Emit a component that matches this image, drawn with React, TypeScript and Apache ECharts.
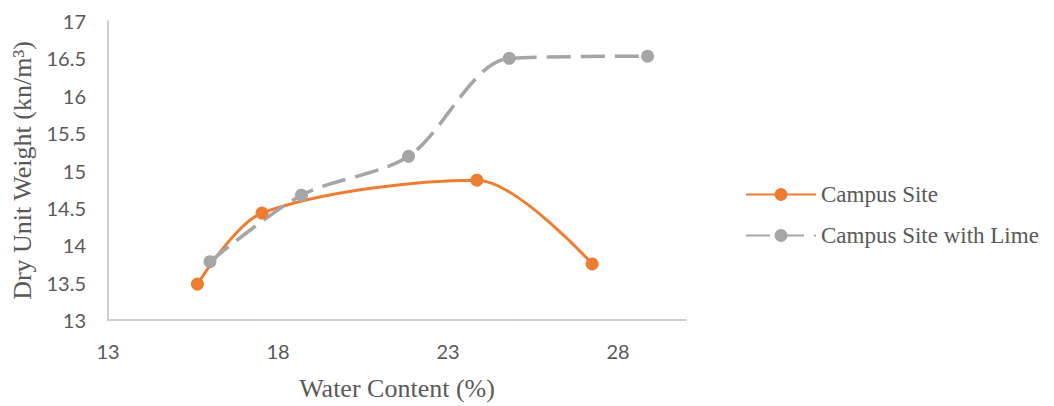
import React, { useEffect, useRef } from "react";
import * as echarts from "echarts";

const seriesNames = ["Campus Site", "Campus Site with Lime"];
const campusX = [15.63, 17.53, 23.85, 27.24];
const campusY = [13.48, 14.43, 14.87, 13.75];
const limeX = [16.0, 18.69, 21.84, 24.8, 28.87];
const limeY = [13.78, 14.67, 15.19, 16.5, 16.53];
const xTitle = "Water Content (%)";
const yTitle = "Dry Unit Weight (kn/m³)";

export default function App() {
  const ref = useRef<HTMLDivElement>(null);
  useEffect(() => {
    if (!ref.current) return;
    const chart = echarts.init(ref.current, null, { renderer: "svg" });
    const tickFont = { fontFamily: "Lato", fontSize: 20, color: "#595959" };
    chart.setOption({
      animation: false,
      grid: { left: 108, top: 21, right: 368, bottom: 83 },
      xAxis: {
        type: "value",
        min: 13,
        max: 30,
        interval: 5,
        axisLine: { show: true, lineStyle: { color: "#bfbfbf", width: 1.5 } },
        axisTick: { show: false },
        splitLine: { show: false },
        axisLabel: { ...tickFont, margin: 21, showMaxLabel: false },
        name: xTitle,
        nameLocation: "middle",
        nameGap: 55,
        nameTextStyle: { fontFamily: "Liberation Serif", fontSize: 26, color: "#595959" },
      },
      yAxis: {
        type: "value",
        min: 13,
        max: 17,
        interval: 0.5,
        axisLine: { show: true, lineStyle: { color: "#bfbfbf", width: 1.5 } },
        axisTick: { show: false },
        splitLine: { show: false },
        axisLabel: { ...tickFont, margin: 22 },
        name: yTitle,
        nameLocation: "middle",
        nameGap: 73,
        nameTextStyle: { fontFamily: "Liberation Serif", fontSize: 26, color: "#595959" },
      },
      legend: {
        orient: "vertical",
        left: 740,
        top: 178,
        itemWidth: 70,
        itemHeight: 16,
        itemGap: 18,
        textStyle: { fontFamily: "Liberation Serif", fontSize: 23, color: "#595959" },
        data: seriesNames,
      },
      series: [
        {
          name: seriesNames[0],
          type: "line",
          smooth: 0.3,
          data: campusX.map((x, i) => [x, campusY[i]]),
          symbol: "circle",
          symbolSize: 13,
          itemStyle: { color: "#ED7D31" },
          lineStyle: { color: "#ED7D31", width: 3 },
        },
        {
          name: seriesNames[1],
          type: "line",
          smooth: 0.3,
          data: limeX.map((x, i) => [x, limeY[i]]),
          symbol: "circle",
          symbolSize: 13,
          itemStyle: { color: "#A5A5A5" },
          lineStyle: { color: "#A5A5A5", width: 3.5, type: [24, 10] },
        },
      ],
    });
    return () => chart.dispose();
  }, []);
  return <div ref={ref} style={{ width: 1054, height: 406, position: "absolute", left: 0, top: 0 }} />;
}
